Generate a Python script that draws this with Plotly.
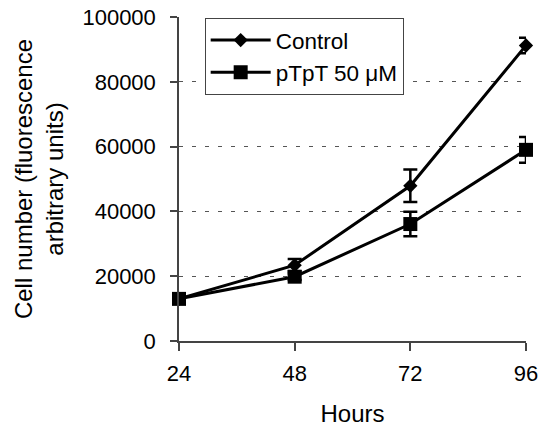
import plotly.graph_objects as go

hours = [24, 48, 72, 96]
control = [13000, 23400, 47900, 91200]
control_err = [700, 1900, 5000, 2400]
ptpt = [13000, 19850, 36100, 59000]
ptpt_err = [700, 1000, 3800, 4000]
y_ticks = [0, 20000, 40000, 60000, 80000, 100000]

FONT = "Liberation Sans, Arial, sans-serif"

fig = go.Figure()
fig.add_trace(go.Scatter(
    x=hours, y=control, name="Control", mode="lines+markers",
    line=dict(color="black", width=3),
    marker=dict(symbol="diamond", size=11, color="black"),
    error_y=dict(type="data", array=control_err, visible=True, color="black", thickness=2.5, width=7),
    cliponaxis=False,
))
fig.add_trace(go.Scatter(
    x=hours, y=ptpt, name="pTpT 50 μM", mode="lines+markers",
    line=dict(color="black", width=3),
    marker=dict(symbol="square", size=14, color="black"),
    error_y=dict(type="data", array=ptpt_err, visible=True, color="black", thickness=2.5, width=7),
    cliponaxis=False,
))

fig.update_layout(
    width=542, height=427,
    margin=dict(l=178.5, r=16.3, t=17, b=86, autoexpand=False),
    paper_bgcolor="white", plot_bgcolor="white",
    font=dict(family=FONT, size=22, color="black"),
    showlegend=True,
    legend=dict(
        x=0.074, y=0.997, xanchor="left", yanchor="top",
        bgcolor="white", bordercolor="#444", borderwidth=1,
        font=dict(family=FONT, size=22.5, color="black"), itemwidth=60, tracegroupgap=0,
    ),
    xaxis=dict(
        range=[24, 96], tickvals=hours, ticktext=[str(h) for h in hours],
        showline=True, linecolor="#444", linewidth=1.5,
        ticks="outside", ticklen=8, tickcolor="#444", tickwidth=1.5,
        showgrid=False, zeroline=False, automargin=False,
        title=dict(text="Hours", standoff=27, font=dict(family=FONT, size=24, color="black")),
        ticklabelstandoff=4,
    ),
    yaxis=dict(
        range=[0, 100000], tickvals=y_ticks, ticktext=[str(v) for v in y_ticks],
        showline=True, linecolor="#444", linewidth=1.5,
        ticks="outside", ticklen=7, tickcolor="#444", tickwidth=1.5,
        showgrid=True, gridcolor="#555", gridwidth=1, griddash="4px,9px",
        zeroline=False, automargin=False,
        title=dict(text="Cell number (fluorescence<br>arbitrary units)", standoff=12,
                   font=dict(family=FONT, size=24, color="black")),
        ticklabelstandoff=10,
    ),
)
fig.write_html("out.html")
